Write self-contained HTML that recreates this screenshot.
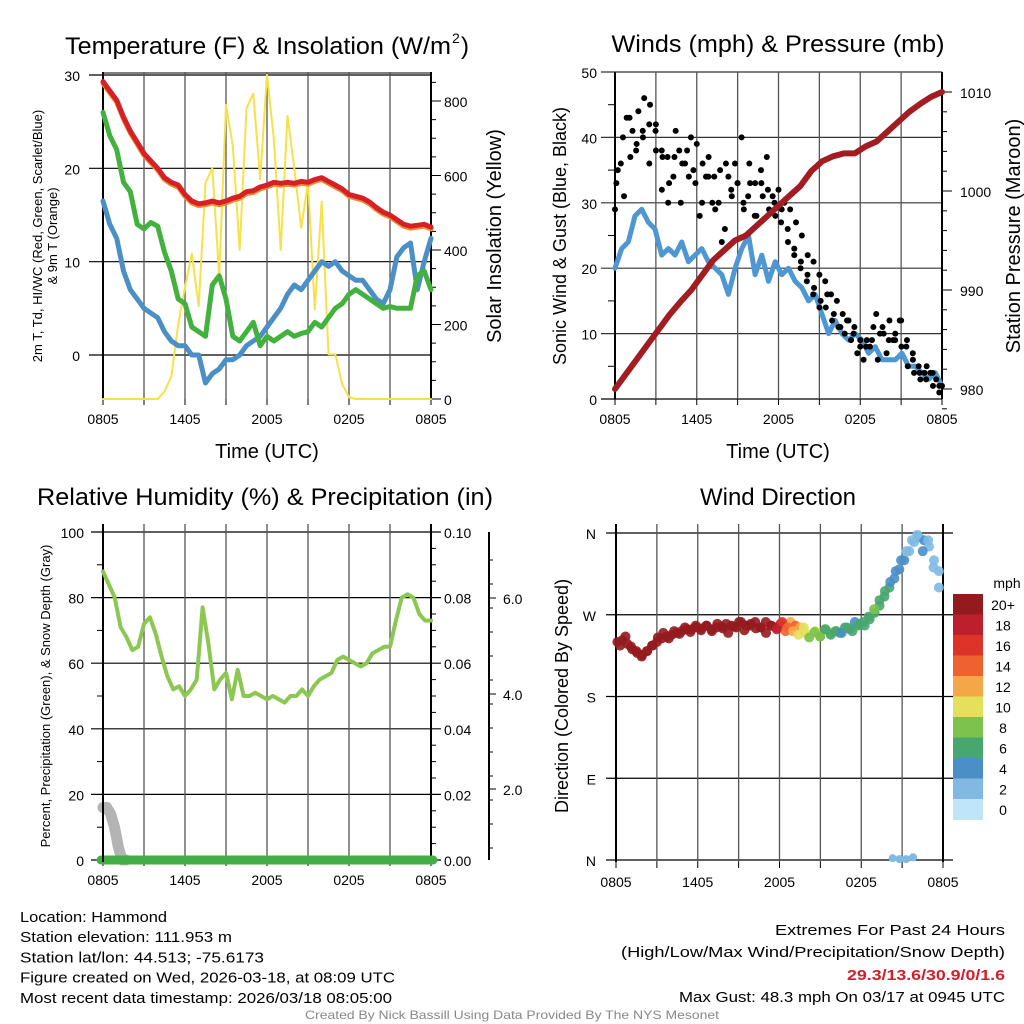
<!DOCTYPE html>
<html><head><meta charset="utf-8"><style>
html,body{margin:0;padding:0;background:#fff;}
svg{display:block;font-family:"Liberation Sans",sans-serif;}
</style></head><body>
<svg id="c" width="1024" height="1024" viewBox="0 0 1024 1024"></svg>
<script>
// ---------- DATA ----------
const timeTicks = ["0805","1405","2005","0205","0805"];
const tempF = [29.3,28.3,27.3,25.5,24,22.8,21.6,20.8,20,19,18.5,18.2,17.2,16.5,16.2,16.3,16.5,16.3,16.5,16.8,17,17.5,17.6,18,18.2,18.5,18.4,18.5,18.4,18.6,18.5,18.8,19,18.6,18.2,17.8,17.2,17,16.8,16.4,15.8,15.3,15,14.5,14,13.8,13.9,14,13.7];
const dewF = [26,23.5,22,18.5,17.5,14,13.5,14.2,13.8,11,9,6,5.5,3,2.5,2,7.5,8.5,6,2,1.5,2.5,3.5,1,2,1.5,2,2.5,2,2.3,2.5,3.5,3,4,5,5.5,6.5,7,6.5,6,5.5,5,5.2,5,5,5,8.5,9,7];
const windChillF = [16.5,14,12.5,9,7,6,5,4.5,4,2.5,1.5,1,1,0,0,-3,-2,-1.5,-0.5,-0.5,0,1,1.5,2,3,4,5,6.5,7.5,7,8,9,10,9.5,10,9,8.5,8,8,7,6,5.5,7,10.5,11.5,12,7,10,12.5];
const solar = [0,0,0,0,0,0,0,0,0,20,60,200,300,390,250,580,620,330,790,680,400,780,820,590,870,700,400,760,620,460,580,240,530,120,120,40,5,0,0,0,0,0,0,0,0,0,0,0,0];
const windSpd = [20,23,24,28,29,27,26,22,23,22,24,21,22,23,21,20,19,16,20,23,25,19,22,18,21,19,20,18,17,15,16,13,10,12,10,9,10,9,7,8,6,6,6,7,5,5,4,3,4,2];
const gustA = [29,36,43,41,44,46,45,42,38,37,34,38,36,40,39,36,34,34,35,36,31,33,30,36,33,35,37,31,32,30,29,27,25,22,21,19,18,16,15,13,12,11,9,8,9,6,10,12,10,12,9,7,5,4,4,3,2];
const gustB = [35,31,37,39,40,42,41,32,30,37,30,38,35,28,34,30,30,26,32,33,29,33,28,31,29,28,29,24,22,20,18,16,14,14,12,11,10,9,7,6,8,13,11,9,9,8,5,4,3,5,2,1];
const gustC = [33,40,43,38,41,36,38,37,33,41,36,34,33,30,37,29,24,34,36,40,31,28,33,32,30,27,26,23,21,19,17,15,16,13,11,12,10,8,9,11,10,7,9,12,8,6,4,3,4,2];
const pressure = [980,981.5,983,984.5,986,987.5,988.8,990,991.5,993,994,995,995.5,996.5,997.5,998.5,999.5,1000.5,1002,1003,1003.5,1003.8,1003.8,1004.5,1005,1006,1007,1008,1008.8,1009.5,1010];
const rh = [88,84,80,71,68,64,65,72,74,69,62,56,52,53,50,52,55,77,66,52,55,57,49,58,50,50,51,50,49,50,49,48,50,50,52,50,53,55,56,57,61,62,61,60,59,60,63,64,65,65,73,80,81,80,75,73,73];
const snow = [16,16,14,10,4,0,0];
const dirDeg = [240,242,238,232,228,226,230,236,240,244,246,248,250,252,254,254,256,255,258,254,256,257,260,258,256,262,258,260,255,256,262,258,256,260,252,262,258,256,250,248,252,246,254,250,252,250,256,254,262,260,258,265,272,280,290,300,310,320,330,340,350,355,352,345,330,318];
const dirSpd = [22,22,22,22,22,22,22,22,22,22,22,22,22,22,22,22,22,22,22,22,22,22,22,22,22,22,22,22,22,22,20,18,16,17,14,12,13,11,10,10,9,8,7,8,7,6,5,6,4,5,6,6,5,6,6,5,4,4,3,2,2,2,3,2,1,1];
const dirDeg2 = [236,246,235,230,224,230,236,245,250,244,252,249,256,251,258,253,258,252,260,255,250,257,262,253,258,262,256,250,258,254,262,256,252,248,256,245,251,246,254,248,252,250,256,252,258,262,268,276,286,296,306,318,330,340,352,358,340,352,322,300];
const dirSpd2 = [22,22,22,22,22,22,22,22,22,22,22,22,22,22,22,22,22,22,22,22,22,22,22,22,22,22,22,21,19,17,15,13,12,10,9,8,8,7,6,6,5,4,5,6,5,5,6,7,6,5,4,4,3,2,2,1,4,2,1,1];
const dirBottom = [2,1,1,3];
const legendLabels = ["20+","18","16","14","12","10","8","6","4","2","0"];
const legendColors = ["#931b1e","#bd1f2d","#dc3428","#ef622d","#f5a748","#e5e05b","#7cc24c","#48a66f","#4a8fc6","#80bae3","#bee5f8"];
const extremes = "29.3/13.6/30.9/0/1.6";

// ---------- HELPERS ----------
const svg = document.getElementById('c');
const NS = "http://www.w3.org/2000/svg";
function mk(tag, attrs, parent){const e=document.createElementNS(NS,tag);for(const k in attrs)e.setAttribute(k,attrs[k]);(parent||svg).appendChild(e);return e;}
function txt(s,x,y,size,anchor,extra){const t=mk('text',Object.assign({x:x,y:y,'font-size':size,'text-anchor':anchor||'middle',fill:'#000'},extra||{}));t.textContent=s;return t;}
function lin(x1,y1,x2,y2,col,w){return mk('line',{x1:x1,y1:y1,x2:x2,y2:y2,stroke:col||'#000','stroke-width':w||1});}
function scale(d0,d1,r0,r1){return v=>r0+(v-d0)*(r1-r0)/(d1-d0);}
function poly(arr,xs,ys,col,w,name){const n=arr.length;const pts=arr.map((v,i)=>xs(i*24/(n-1)).toFixed(1)+','+ys(v).toFixed(1)).join(' ');const p=mk('polyline',{points:pts,fill:'none',stroke:col,'stroke-width':w,'stroke-linejoin':'round','stroke-linecap':'round'});


return p;}
function timeGrid(x0,x1,yTop,yBot){const xs=scale(0,24,x0,x1);for(let k=0;k<=8;k++){const x=xs(k*3);const g=lin(x,yTop,x,yBot,k===0||k===8?'#000':'#555',k===0||k===8?2:1.3);lin(x,yBot,x,yBot+6,'#000',1);}
timeTicks.forEach((s,i)=>{const t=txt(s,xs(i*6),yBot+25,14);

});return xs;}

// ---------- PANEL 1 ----------
(function(){
 const x0=103,x1=431,yT=72,yB=399;
 const ys=scale(0,30,355,75), ysR=scale(0,800,399,101);
 [0,10,20,30].forEach(v=>{lin(x0-14,ys(v),x1,ys(v),'#000',1.2);const t=txt(String(v),80,ys(v)+6,14,'end');
 
 });
 lin(x0,73,x1,73,'#000',1);
 const xs=timeGrid(x0,x1,yT,yB);
 lin(x1,yT,x1,yB,'#000',2);
 for(let v=0;v<=850;v+=50){const y=ysR(v);lin(x1,y,x1+(v%200===0?10:5),y,'#000',1);}
 [0,200,400,600,800].forEach(v=>{const t=txt(String(v),444,ysR(v)+6,14,'start');
 
 });
 poly(solar,xs,ysR,'#f8e04a',2,'solar-insolation-line');
 poly(windChillF,xs,ys,'#4a8fc6',5,'wind-chill-line');
 poly(dewF,xs,ys,'#42b13d',5,'dewpoint-line');
 poly(tempF.map(v=>v-0.2),xs,ys,'#f08a30',5,'temp-9m-line');
 poly(tempF,xs,ys,'#d42026',5,'temp-2m-line');
 const t1=txt('Temperature (F) & Insolation (W/m',65,54,24,'start',{textLength:386,lengthAdjust:'spacingAndGlyphs'});
 
 txt('2',452,43,14,'start');txt(')',461,54,24,'start');
 const g=mk('g',{transform:'translate(42,236) rotate(-90)'});
 const a=mk('text',{x:0,y:0,'font-size':13,'text-anchor':'middle'},g);
 a.textContent='2m T, Td, HI/WC (Red, Green, Scarlet/Blue)';
 const b=mk('text',{x:0,y:15,'font-size':13,'text-anchor':'middle'},g);b.textContent='& 9m T (Orange)';
 
 const r=mk('text',{transform:'translate(501,236) rotate(-90)','font-size':20,'text-anchor':'middle'});r.textContent='Solar Insolation (Yellow)';
 
 const xt=txt('Time (UTC)',267,458,20);
})();

// ---------- PANEL 2 ----------
(function(){
 const x0=615,x1=942,yT=72,yB=399;
 const ys=scale(0,50,399,72), ysR=scale(980,1010,389,92);
 [0,10,20,30,40,50].forEach(v=>{lin(x0-14,ys(v),x1,ys(v),v===0?'#000':'#333',1.2);const t=txt(String(v),597,ys(v)+6,14,'end');
 });
 for(let v=5;v<50;v+=10)lin(x0-7,ys(v),x0,ys(v),'#000',1);
 const xs=timeGrid(x0,x1,yT,yB);
 lin(x1,yT,x1,yB,'#000',2);
 for(let v=978;v<=1010;v+=2){const y=ysR(v);lin(x1,y,x1+(v%10===0?10:5),y,'#000',1);}
 [980,990,1000,1010].forEach(v=>{const t=txt(String(v),960,ysR(v)+6,14,'start');
 });
 poly(windSpd,xs,ys,'#4f97d3',5,'sonic-wind-line');
 gustA.forEach((v,i)=>{const c=mk('circle',{cx:xs(i*24/(gustA.length-1)),cy:ys(v),r:3,fill:'#000'});
 });
 gustB.forEach((v,i)=>{const c=mk('circle',{cx:xs(0.2+i*23.6/(gustB.length-1)),cy:ys(v),r:3,fill:'#000'});
 });
 gustC.forEach((v,i)=>{const c=mk('circle',{cx:xs(0.1+i*23.7/(gustC.length-1)),cy:ys(v),r:3,fill:'#000'});
 });
 poly(pressure,xs,ysR,'#a11d21',6,'pressure-line');
 const t=txt('Winds (mph) & Pressure (mb)',778,52,24,'middle',{textLength:333,lengthAdjust:'spacingAndGlyphs'});
 
 const l=mk('text',{transform:'translate(566,236) rotate(-90)','font-size':18,'text-anchor':'middle'});l.textContent='Sonic Wind & Gust (Blue, Black)';
 
 const r=mk('text',{transform:'translate(1020,236) rotate(-90)','font-size':20,'text-anchor':'middle'});r.textContent='Station Pressure (Maroon)';
 
 const xt=txt('Time (UTC)',778,458,20);
})();

// ---------- PANEL 3 ----------
(function(){
 const x0=103,x1=431,yT=524,yB=860;
 const ys=scale(0,100,860,532);
 [0,20,40,60,80,100].forEach(v=>{lin(x0-12,ys(v),x1+10,ys(v),'#000',1.2);const t=txt(String(v),84,ys(v)+6,14,'end');
 
 const p=txt((v/1000).toFixed(2),444,ys(v)+6,14,'start');
 });
 for(let v=10;v<100;v+=20){lin(x0-6,ys(v),x0,ys(v),'#000',1);}
 for(let v=5;v<100;v+=5){if(v%20)lin(x1,ys(v),x1+5,ys(v),'#000',1);}
 const xs=timeGrid(x0,x1,yT,yB);
 lin(x1,yT,x1,yB,'#000',2);
 lin(489,532,489,860,'#000',2);
 [[598,'6.0'],[694,'4.0'],[789,'2.0']].forEach(([y,s])=>{lin(489,y,496,y,'#000',1);const t=txt(s,503,y+6,14,'start');
 });
 for(let y=560;y<860;y+=24)lin(489,y,493,y,'#000',1);
 const sx=scale(0,24,x0,x1);
 const sp=snow.map((v,i)=>sx(i*0.28).toFixed(1)+','+ys(v).toFixed(1)).join(' ');
 const s=mk('polyline',{points:sp,fill:'none',stroke:'#b4b4b4','stroke-width':11,'stroke-linecap':'round','stroke-linejoin':'round'});
 
 const pr=mk('line',{x1:x0-2,y1:ys(0),x2:x1+2,y2:ys(0),stroke:'#43ae46','stroke-width':9,'stroke-linecap':'round'});
 
 lin(x0,yT,x0,yB+2,'#000',2);
 poly(rh,xs,ys,'#8cc751',4,'relative-humidity-line');
 const t=txt('Relative Humidity (%) & Precipitation (in)',265,505,24,'middle',{textLength:456,lengthAdjust:'spacingAndGlyphs'});
 
 const l=mk('text',{transform:'translate(50,696) rotate(-90)','font-size':13,'text-anchor':'middle'});l.textContent='Percent, Precipitation (Green), & Snow Depth (Gray)';
 
})();

// ---------- PANEL 4 ----------
(function(){
 const x0=616,x1=943,yT=524,yB=860;
 const ys=scale(0,360,860,533);
 [['N',0],['E',90],['S',180],['W',270],['N',360]].forEach(([s,v])=>{lin(x0-10,ys(v),x1+10,ys(v),'#000',1.2);const t=txt(s,596,ys(v)+6,14,'end');
 });
 const xs=timeGrid(x0,x1,yT,yB+2);
 const col=v=>legendColors[Math.max(0,Math.min(10,10-Math.round(v/2)))];
 dirDeg.forEach((d,i)=>{const c=mk('circle',{cx:xs(0.1+i*23.6/(dirDeg.length-1)),cy:ys(d),r:5,fill:col(dirSpd[i]),'fill-opacity':0.9});
 });
 dirDeg2.forEach((d,i)=>{const c=mk('circle',{cx:xs(0.3+i*23.4/(dirDeg2.length-1)),cy:ys(d),r:5,fill:col(dirSpd2[i]),'fill-opacity':0.9});
 });
 dirBottom.forEach((d,i)=>{const c=mk('circle',{cx:xs(20.3+i*0.5),cy:ys(d),r:4,fill:'#80bae3'});
 });
 legendColors.forEach((c,i)=>{const r=mk('rect',{x:953,y:594+i*20.5,width:30,height:21,fill:c});
 
 const t=txt(legendLabels[i],1003,594+i*20.5+16,14,'middle');
 });
 const m=txt('mph',1007,588,14,'middle');
 const t=txt('Wind Direction',778,505,24);
 const l=mk('text',{transform:'translate(568,696) rotate(-90)','font-size':18,'text-anchor':'middle'});l.textContent='Direction (Colored By Speed)';
 
})();

// ---------- FOOTER ----------
const leftLines=[['Location: Hammond',147],['Station elevation: 111.953 m',212],['Station lat/lon: 44.513; -75.6173',244],['Figure created on Wed, 2026-03-18, at 08:09 UTC',375],['Most recent data timestamp: 2026/03/18 08:05:00',372]];
leftLines.forEach(([s,w],i)=>{const t=txt(s,20,922+i*20.2,15,'start',{textLength:w,lengthAdjust:'spacingAndGlyphs'});
});
const r1=txt('Extremes For Past 24 Hours',1005,935,15,'end',{textLength:230,lengthAdjust:'spacingAndGlyphs'});
const r2=txt('(High/Low/Max Wind/Precipitation/Snow Depth)',1005,957,15,'end',{textLength:384,lengthAdjust:'spacingAndGlyphs'});
const r3=txt(extremes,1005,980,15,'end',{fill:'#d0202a','font-weight':'bold',textLength:158,lengthAdjust:'spacingAndGlyphs'});
const r4=txt('Max Gust: 48.3 mph On 03/17 at 0945 UTC',1005,1002,15,'end',{textLength:326,lengthAdjust:'spacingAndGlyphs'});
const cr=txt('Created By Nick Bassill Using Data Provided By The NYS Mesonet',512,1019,12,'middle',{fill:'#888',textLength:414,lengthAdjust:'spacingAndGlyphs'});

</script>
</body></html>
